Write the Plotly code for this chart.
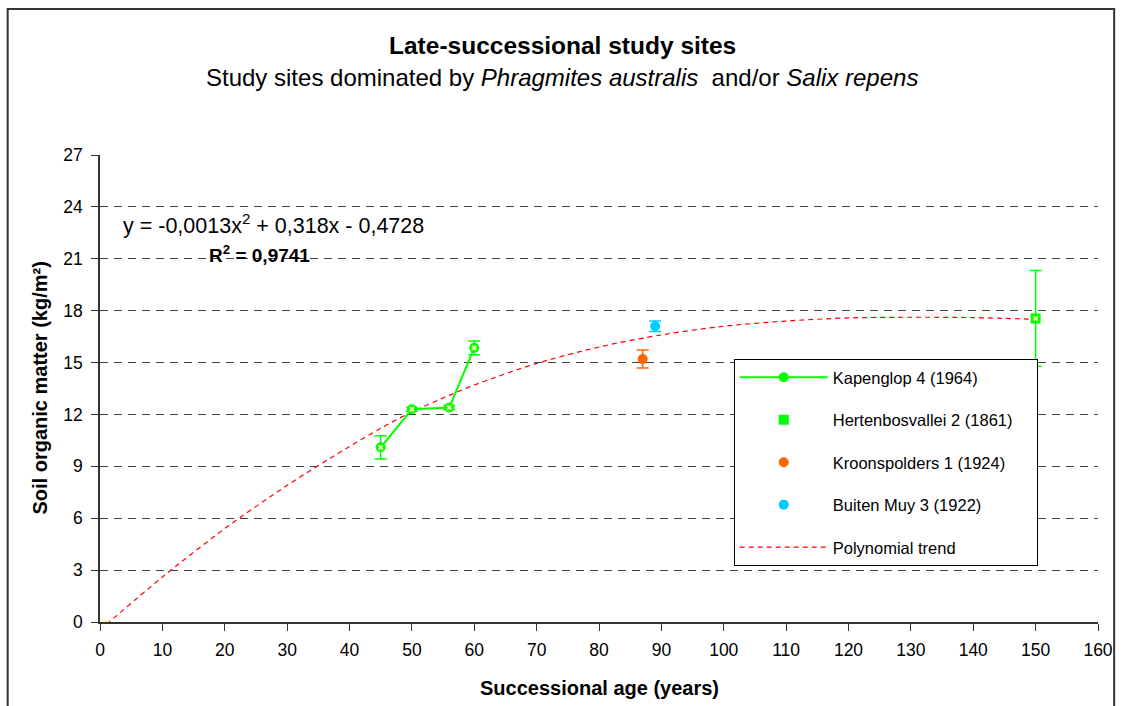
import plotly.graph_objects as go

# ---------------- data ----------------
kap_x = [45, 50, 56, 60]
kap_y = [10.1, 12.3, 12.4, 15.85]
kap_err = [0.67, 0.1, 0.12, 0.4]

hert_x = [150]
hert_y = [17.55]
hert_err = [2.77]

kroon_x = [87]
kroon_y = [15.2]
kroon_err = [0.52]

buiten_x = [89]
buiten_y = [17.1]
buiten_err = [0.3]

fit_x = [1, 45, 50, 56, 60, 150]
fit_y = [0, 10.1, 12.3, 12.4, 15.85, 17.55]

trend_x = [1, 10, 20, 30, 40, 45, 50, 56, 60, 70, 80, 90, 100, 110, 120, 130, 140, 150]
trend_y = [-0.15, 2.6, 5.4, 7.9, 10.15, 11.2, 12.15, 13.1, 13.7, 14.95, 15.9, 16.6, 17.1, 17.4, 17.58, 17.62, 17.6, 17.5]

x_ticks = list(range(0, 161, 10))
y_ticks = list(range(0, 28, 3))

FONT = "Liberation Sans, Arial, sans-serif"
GREEN = "#00FF00"
ORANGE = "#FF6600"
CYAN = "#00CCFF"
NB = "\u00a0"

fig = go.Figure()

fig.add_trace(go.Scatter(
    x=trend_x, y=trend_y, mode="lines", name="Polynomial trend",
    line=dict(color="#FF0000", width=1.2, dash="5px,4px", shape="spline", smoothing=0.8),
    legendgroup="g5", legendrank=5, hoverinfo="skip"))

fig.add_trace(go.Scatter(
    x=kap_x, y=kap_y, mode="lines+markers", name="Kapenglop 4 (1964)",
    line=dict(color=GREEN, width=2),
    marker=dict(symbol="circle", size=10, color=GREEN),
    error_y=dict(type="data", array=kap_err, color=GREEN, thickness=1.5, width=6),
    legendgroup="g1", legendrank=1))

fig.add_trace(go.Scatter(
    x=hert_x, y=hert_y, mode="markers", name="Hertenbosvallei 2 (1861)" + NB * 4,
    marker=dict(symbol="square", size=10, color=GREEN),
    error_y=dict(type="data", array=hert_err, color=GREEN, thickness=1.5, width=6),
    legendgroup="g2", legendrank=2))

fig.add_trace(go.Scatter(
    x=kroon_x, y=kroon_y, mode="markers", name="Kroonspolders 1 (1924)",
    marker=dict(symbol="circle", size=10, color=ORANGE),
    error_y=dict(type="data", array=kroon_err, color=ORANGE, thickness=1.5, width=6),
    legendgroup="g3", legendrank=3))

fig.add_trace(go.Scatter(
    x=buiten_x, y=buiten_y, mode="markers", name="Buiten Muy 3 (1922)",
    marker=dict(symbol="circle", size=10, color=CYAN),
    error_y=dict(type="data", array=buiten_err, color=CYAN, thickness=1.5, width=6),
    legendgroup="g4", legendrank=4))

fig.add_trace(go.Scatter(
    x=fit_x, y=fit_y, mode="markers", showlegend=False,
    marker=dict(symbol="x", size=5, color="#E8FF99", line=dict(width=0)),
    hoverinfo="skip"))

fig.update_layout(
    width=1125, height=706,
    margin=dict(l=100, r=19, t=155, b=84, pad=0),
    paper_bgcolor="white", plot_bgcolor="white",
    font=dict(family=FONT, color="black", size=17),
    showlegend=True,
    legend=dict(
        x=0.635, y=0.563, xanchor="left", yanchor="top",
        bgcolor="white", bordercolor="black", borderwidth=1,
        font=dict(size=16.5, family=FONT),
        traceorder="grouped", tracegroupgap=18, itemwidth=88,
    ),
    xaxis=dict(
        range=[0, 160], tickvals=x_ticks, showgrid=False, zeroline=False,
        showline=True, linecolor="#333333", linewidth=1.5,
        ticks="outside", ticklen=7, tickcolor="#333333",
        tickfont=dict(size=17.5, family=FONT), ticklabelstandoff=4,
    ),
    yaxis=dict(
        range=[0, 27], tickvals=y_ticks, showgrid=True, gridcolor="#404040",
        griddash="8px,6px", gridwidth=1, zeroline=False,
        showline=True, linecolor="#333333", linewidth=1.5,
        ticks="outside", ticklen=7, tickcolor="#333333",
        tickfont=dict(size=17.5, family=FONT), ticklabelstandoff=5,
    ),
)

# outer chart border
fig.add_shape(type="rect", xref="paper", yref="paper",
              x0=-0.0925, x1=1.0162, y0=-0.25, y1=1.3128,
              line=dict(color="#333333", width=2), fillcolor="rgba(0,0,0,0)", layer="above")

anns = [
    dict(text="<b>Late-successional study sites</b>", x=0.4634, y=1.2336, size=24.5),
    dict(text="Study sites dominated by <i>Phragmites australis</i>  and/or <i>Salix repens</i>",
         x=0.4634, y=1.165, size=24),
    dict(text="<b>Successional age (years)</b>", x=0.5, y=-0.142, size=20),
]
for a in anns:
    fig.add_annotation(text=a["text"], x=a["x"], y=a["y"], xref="paper", yref="paper",
                       showarrow=False, xanchor="center", yanchor="middle",
                       font=dict(size=a["size"], family=FONT, color="black"))

fig.add_annotation(text="<b>Soil organic matter (kg/m²)</b>", x=-0.0597, y=0.5008,
                   xref="paper", yref="paper", showarrow=False, textangle=-90,
                   xanchor="center", yanchor="middle",
                   font=dict(size=20, family=FONT, color="black"))

fig.add_annotation(text="y = -0,0013x<sup>2</sup> + 0,318x - 0,4728", x=27.8, y=23.0,
                   xref="x", yref="y", showarrow=False, xanchor="center", yanchor="middle",
                   font=dict(size=21.5, family=FONT, color="black"))
fig.add_annotation(text="<b>R<sup>2</sup> = 0,9741</b>", x=25.5, y=21.3,
                   xref="x", yref="y", showarrow=False, xanchor="center", yanchor="middle",
                   font=dict(size=19, family=FONT, color="black"))

fig.write_html("out.html")
